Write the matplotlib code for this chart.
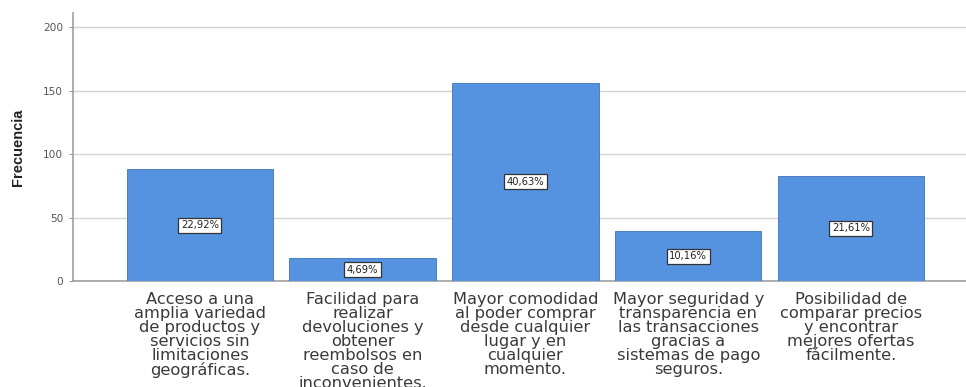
import matplotlib
matplotlib.use("Agg")
import matplotlib.pyplot as plt

# Frequency of each reason (n = 384) and its share of the total
categorias = [
    "Acceso a una\namplia variedad\nde productos y\nservicios sin\nlimitaciones\ngeográficas.",
    "Facilidad para\nrealizar\ndevoluciones y\nobtener\nreembolsos en\ncaso de\ninconvenientes.",
    "Mayor comodidad\nal poder comprar\ndesde cualquier\nlugar y en\ncualquier\nmomento.",
    "Mayor seguridad y\ntransparencia en\nlas transacciones\ngracias a\nsistemas de pago\nseguros.",
    "Posibilidad de\ncomparar precios\ny encontrar\nmejores ofertas\nfácilmente.",
]
frecuencias = [88, 18, 156, 39, 83]
porcentajes = ["22,92%", "4,69%", "40,63%", "10,16%", "21,61%"]
yticks = [0, 50, 100, 150, 200]

fig = plt.figure(figsize=(9.66, 3.87), dpi=100)
ax = fig.add_axes([0.0756, 0.274, 0.9244, 0.692])

x = list(range(len(categorias)))
ax.bar(x, frecuencias, width=0.9, color="#5592e0", edgecolor="#3f72b8",
       linewidth=0.6, zorder=3)

for xi, v, p in zip(x, frecuencias, porcentajes):
    ax.text(xi, v / 2, p, ha="center", va="center", fontsize=7.2,
            color="#222222", family="DejaVu Sans", zorder=4,
            bbox=dict(boxstyle="square,pad=0.25", facecolor="white",
                      edgecolor="#333333", linewidth=0.9))

ax.set_xlim(-0.78, 4.707)
ax.set_ylim(0, 211)
ax.set_yticks(yticks)
ax.set_yticklabels([str(t) for t in yticks], fontsize=7.6, color="#555555",
                   family="DejaVu Sans")
ax.set_xticks(x)
ax.set_xticklabels(categorias, fontsize=11.7, color="#3a3a3a",
                   family="DejaVu Sans", linespacing=0.92)
ax.tick_params(axis="x", length=0, pad=8)
ax.tick_params(axis="y", length=3, width=0.8, color="#999999", pad=4)

ax.yaxis.grid(True, color="#d4d4d4", linewidth=1.0, zorder=0)
ax.set_axisbelow(True)

for side in ("top", "right"):
    ax.spines[side].set_visible(False)
for side in ("left", "bottom"):
    ax.spines[side].set_color("#a0a0a0")
    ax.spines[side].set_linewidth(1.2)

ax.set_ylabel("Frecuencia", fontsize=10.5, color="#222222", fontweight="bold",
              family=["Liberation Sans Narrow", "Liberation Sans", "DejaVu Sans"],
              labelpad=13)

fig.savefig("out.png", dpi=100)
